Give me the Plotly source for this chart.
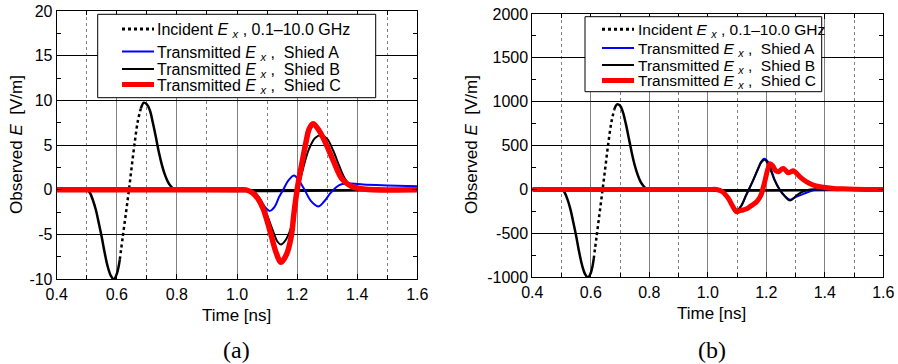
import plotly.graph_objects as go

# ---------------- Panel (a) data ----------------
inc_a_t = [0.40, 0.50, 0.51, 0.52, 0.53, 0.54, 0.55, 0.56, 0.57, 0.58, 0.59, 0.60, 0.61, 0.62, 0.63, 0.64,
           0.65, 0.66, 0.67, 0.68, 0.69, 0.70, 0.71, 0.72, 0.73, 0.74, 0.75, 0.76, 0.77, 0.78, 0.79, 0.80, 1.60]
inc_a_e = [0, 0, -0.3, -1.1, -2.2, -3.7, -5.3, -7.1, -8.6, -9.6, -10.0, -9.4, -7.8, -5.2, -2.7, -0.1,
           2.7, 5.4, 7.7, 9.1, 9.75, 9.55, 8.9, 7.5, 5.9, 4.2, 2.8, 1.7, 0.9, 0.4, 0.1, 0, 0]

a_a_t = [0.40, 1.00, 1.04, 1.06, 1.08, 1.095, 1.109, 1.125, 1.14, 1.155, 1.17, 1.19, 1.205, 1.225, 1.245,
         1.27, 1.29, 1.31, 1.33, 1.35, 1.38, 1.42, 1.50, 1.60]
a_a_e = [0, 0, 0, -0.4, -1.3, -2.0, -2.35, -1.9, -0.8, 0.1, 1.0, 1.6, 1.1, 0.0, -1.2,
         -1.85, -1.3, -0.4, 0.3, 0.65, 0.7, 0.6, 0.5, 0.4]

b_a_t = [0.40, 1.00, 1.04, 1.06, 1.08, 1.10, 1.12, 1.135, 1.146, 1.16, 1.175, 1.19, 1.203, 1.22, 1.24,
         1.26, 1.28, 1.30, 1.32, 1.34, 1.36, 1.38, 1.40, 1.45, 1.60]
b_a_e = [0, 0, 0, -0.3, -1.2, -2.8, -4.6, -5.8, -6.1, -5.7, -4.7, -2.9, 0.0, 2.4, 4.6,
         5.8, 6.1, 5.7, 4.4, 2.7, 1.2, 0.4, 0.1, 0, 0]

c_a_t = [0.40, 1.00, 1.03, 1.05, 1.07, 1.087, 1.109, 1.131, 1.146, 1.165, 1.18, 1.19, 1.20, 1.215, 1.23,
         1.24, 1.253, 1.27, 1.29, 1.32, 1.35, 1.38, 1.42, 1.60]
c_a_e = [0, 0, 0, -0.3, -1.0, -2.1, -4.5, -7.1, -8.1, -7.2, -5.3, -2.5, 0.0, 2.8, 5.4,
         6.8, 7.4, 6.8, 5.6, 3.3, 1.2, 0.4, 0.1, 0]

# ---------------- Panel (b) data ----------------
inc_b_t = [0.40, 0.50, 0.51, 0.52, 0.53, 0.54, 0.55, 0.56, 0.57, 0.58, 0.59, 0.60, 0.61, 0.62, 0.63, 0.64,
           0.65, 0.66, 0.67, 0.68, 0.69, 0.70, 0.71, 0.72, 0.73, 0.74, 0.75, 0.76, 0.77, 0.78, 0.79, 0.80, 1.60]
inc_b_e = [0, 0, -30, -110, -220, -370, -530, -710, -860, -960, -1000, -950, -790, -530, -270, -10,
           260, 530, 760, 910, 970, 955, 880, 745, 585, 420, 280, 170, 90, 40, 10, 0, 0]

a_b_t = [0.40, 1.00, 1.03, 1.05, 1.07, 1.085, 1.10, 1.115, 1.13, 1.14, 1.155, 1.17, 1.183, 1.193, 1.207,
         1.228, 1.245, 1.264, 1.281, 1.304, 1.327, 1.35, 1.37, 1.40, 1.60]
a_b_e = [0, 0, 0, -20, -95, -175, -240, -185, -75, -5, 105, 225, 320, 350, 310,
         115, 5, -75, -115, -80, -50, -20, 0, 0, 0]

b_b_t = [0.40, 1.00, 1.03, 1.05, 1.07, 1.085, 1.099, 1.115, 1.13, 1.14, 1.155, 1.17, 1.183, 1.195, 1.21,
         1.228, 1.245, 1.264, 1.281, 1.304, 1.327, 1.35, 1.40, 1.60]
b_b_e = [0, 0, 0, -20, -90, -170, -235, -180, -70, 0, 108, 220, 310, 340, 260,
         108, 0, -80, -125, -65, -20, 0, 0, 0]

c_b_t = [0.40, 1.00, 1.03, 1.05, 1.07, 1.085, 1.099, 1.11, 1.121, 1.133, 1.144, 1.155, 1.167, 1.176, 1.184,
         1.19, 1.196, 1.205, 1.213, 1.222, 1.232, 1.241, 1.25, 1.258, 1.267, 1.275, 1.283, 1.292, 1.30, 1.315,
         1.338, 1.361, 1.395, 1.43, 1.46, 1.50, 1.60]
c_b_e = [0, 0, 0, -25, -100, -190, -253, -240, -233, -220, -195, -170, -138, -100, -43,
         30, 108, 230, 295, 270, 215, 202, 225, 240, 215, 190, 200, 213, 195, 145,
         88, 50, 25, 12, 8, 4, 0]

# tick labels
x_tickvals = [0.4, 0.6, 0.8, 1.0, 1.2, 1.4, 1.6]
x_ticktext = ["0.4", "0.6", "0.8", "1.0", "1.2", "1.4", "1.6"]
x_minorvals = [0.5, 0.7, 0.9, 1.1, 1.3, 1.5]
ya_tickvals = [-10, -5, 0, 5, 10, 15, 20]
ya_ticktext = ["-10", "-5", "0", "5", "10", "15", "20"]
ya_minorvals = [-7.5, -2.5, 2.5, 7.5, 12.5, 17.5]
yb_tickvals = [-1000, -500, 0, 500, 1000, 1500, 2000]
yb_ticktext = ["-1000", "-500", "0", "500", "1000", "1500", "2000"]
yb_minorvals = [-750, -250, 250, 750, 1250, 1750]

NB = "\u00a0"
EX = "<i>E</i>" + NB + "<i><sub>x</sub></i>" + NB + ","
names = ["Incident " + EX + " 0.1\u201310.0 GHz",
         "Transmitted " + EX + NB + NB + "Shied A",
         "Transmitted " + EX + NB + NB + "Shied B",
         "Transmitted " + EX + NB + NB + "Shied C"]

FONT = "Liberation Sans, Arial, sans-serif"
SERIF = "Liberation Serif, Times New Roman, serif"
W, H = 898, 364
fig = go.Figure()


def add_panel(xa, ya, inc_t, inc_e, at, ae, bt, be, ct, ce, red_w):
    i1 = inc_t.index(0.61)
    i2 = inc_t.index(0.68)
    fig.add_trace(go.Scatter(x=inc_t[i1:i2 + 1], y=inc_e[i1:i2 + 1], mode="lines", name=names[0],
                             line=dict(color="black", width=2.5, dash="dot", shape="spline"),
                             xaxis=xa, yaxis=ya, showlegend=False))
    fig.add_trace(go.Scatter(x=inc_t[:i1 + 1], y=inc_e[:i1 + 1], mode="lines", showlegend=False,
                             line=dict(color="black", width=2.5, shape="spline"), xaxis=xa, yaxis=ya))
    fig.add_trace(go.Scatter(x=inc_t[i2:], y=inc_e[i2:], mode="lines", showlegend=False,
                             line=dict(color="black", width=2.5, shape="spline"), xaxis=xa, yaxis=ya))
    fig.add_trace(go.Scatter(x=at, y=ae, mode="lines", name=names[1], showlegend=False,
                             line=dict(color="#0000ff", width=2, shape="spline"), xaxis=xa, yaxis=ya))
    fig.add_trace(go.Scatter(x=bt, y=be, mode="lines", name=names[2], showlegend=False,
                             line=dict(color="black", width=2, shape="spline"), xaxis=xa, yaxis=ya))
    fig.add_trace(go.Scatter(x=ct, y=ce, mode="lines", name=names[3], showlegend=False,
                             line=dict(color="#ff0000", width=red_w, shape="spline"), xaxis=xa, yaxis=ya))


add_panel("x", "y", inc_a_t, inc_a_e, a_a_t, a_a_e, b_a_t, b_a_e, c_a_t, c_a_e, 5.5)
add_panel("x2", "y2", inc_b_t, inc_b_e, a_b_t, a_b_e, b_b_t, b_b_e, c_b_t, c_b_e, 5)


def xaxis(dom, anchor):
    return dict(domain=dom, anchor=anchor, range=[0.4, 1.6], tickvals=x_tickvals, ticktext=x_ticktext,
                showgrid=True, gridcolor="#808080", gridwidth=1, ticks="inside", ticklen=5,
                tickcolor="black", mirror="allticks", showline=True, linecolor="black", linewidth=1,
                zeroline=False, automargin=False, tickfont=dict(size=16, color="black", family=FONT),
                minor=dict(tickvals=x_minorvals, showgrid=True, griddash="dot", gridcolor="#808080",
                           gridwidth=1, ticks="inside", ticklen=4, tickcolor="black"))


def yaxis(dom, anchor, rng, tv, tt, mv):
    return dict(domain=dom, anchor=anchor, range=rng, tickvals=tv, ticktext=tt,
                showgrid=True, gridcolor="black", gridwidth=1, ticks="inside", ticklen=5,
                tickcolor="black", mirror="allticks", showline=True, linecolor="black", linewidth=1,
                zeroline=False, automargin=False, tickfont=dict(size=16, color="black", family=FONT),
                minor=dict(tickvals=mv, showgrid=False, ticks="inside", ticklen=4, tickcolor="black"))


fig.update_layout(
    template="none",
    width=W, height=H, margin=dict(l=0, r=0, t=0, b=0, pad=0, autoexpand=False),
    paper_bgcolor="white", plot_bgcolor="white",
    font=dict(family=FONT, color="black"),
    xaxis=xaxis([56.7 / W, 417.3 / W], "y"),
    yaxis=yaxis([1 - 279.3 / H, 1 - 11 / H], "x", [-10, 20], ya_tickvals, ya_ticktext, ya_minorvals),
    xaxis2=xaxis([532.3 / W, 883.3 / W], "y2"),
    yaxis2=yaxis([1 - 277.3 / H, 1 - 14 / H], "x2", [-1000, 2000], yb_tickvals, yb_ticktext, yb_minorvals),
    showlegend=False,
)


def px(x):
    return x / W


def py(y):
    return 1 - y / H


shapes = []
ann = []
# legend boxes: (box left, top, right, bottom, sample x0, sample x1, text x, row centres, font size)
legend_specs = [
    (97.7, 14.3, 375.7, 97.7, 122, 154, 155, [29, 51.5, 69, 84.5], 16),
    (585, 16.7, 821.7, 91.7, 602, 634, 636, [29.3, 48, 65, 80.5], 15.5),
]
sample_styles = [dict(color="black", width=3, dash="dot"),
                 dict(color="#0000ff", width=2),
                 dict(color="black", width=2),
                 dict(color="#ff0000", width=5)]
for (bx0, by0, bx1, by1, sx0, sx1, tx, rows, fs) in legend_specs:
    shapes.append(dict(type="rect", xref="paper", yref="paper", x0=px(bx0), x1=px(bx1), y0=py(by1), y1=py(by0),
                       fillcolor="white", line=dict(color="black", width=1), layer="above"))
    for k, yc in enumerate(rows):
        shapes.append(dict(type="line", xref="paper", yref="paper", x0=px(sx0), x1=px(sx1), y0=py(yc), y1=py(yc),
                           line=sample_styles[k], layer="above"))
        ann.append(dict(text=names[k], x=px(tx), y=py(yc + 1.5), xanchor="left", yanchor="middle",
                        font=dict(size=fs)))

ann += [
    dict(text="Time [ns]", x=px(237), y=py(315), font=dict(size=17)),
    dict(text="Time [ns]", x=px(711.7), y=py(313), font=dict(size=17)),
    dict(text="Observed <i>E</i>\u00a0 [V/m]", x=px(17), y=py(145), textangle=-90, font=dict(size=17)),
    dict(text="Observed <i>E</i>\u00a0 [V/m]", x=px(472), y=py(145), textangle=-90, font=dict(size=17)),
    dict(text="(a)", x=px(237), y=py(350), font=dict(size=24, family=SERIF)),
    dict(text="(b)", x=px(711.7), y=py(350), font=dict(size=24, family=SERIF)),
]
for a in ann:
    a.update(xref="paper", yref="paper", showarrow=False)
    a.setdefault("xanchor", "center")
    a.setdefault("yanchor", "middle")
    a["font"].setdefault("color", "black")
    a["font"].setdefault("family", FONT)
fig.update_layout(annotations=ann, shapes=shapes)

fig.write_html("out.html", config={"displayModeBar": False},
               post_script="document.body.style.margin='0px';")
